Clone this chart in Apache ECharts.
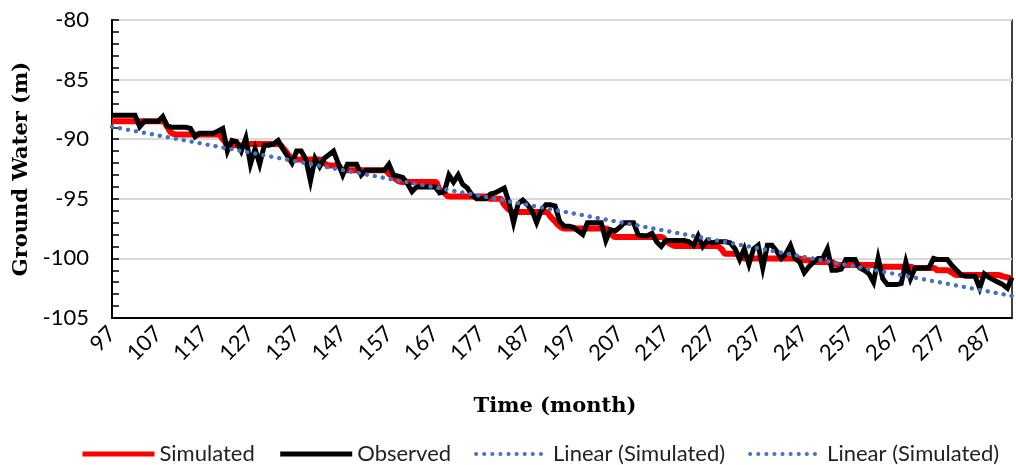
<!DOCTYPE html>
<html><head><meta charset="utf-8">
<script src="https://cdn.jsdelivr.net/npm/echarts@6/dist/echarts.min.js"></script>
<style>html,body{margin:0;padding:0;background:#fff}#c{width:1016px;height:465px}</style>
</head><body><div id="c"></div>
<script>
const firstMonth = 97;
const lastMonth = 292;
const months = [];
for (let m = firstMonth; m <= lastMonth; m++) months.push(String(m));

const observed = [
-88.0,-88.0,-88.0,-88.0,-88.0,-88.0,-88.95,-88.5,-88.5,-88.5,
-88.5,-88.1,-88.9,-89.0,-89.0,-89.0,-89.0,-89.1,-89.8,-89.5,
-89.5,-89.5,-89.5,-89.3,-89.1,-91.0,-90.1,-90.2,-91.0,-89.9,
-92.1,-90.8,-92.1,-90.5,-90.5,-90.4,-90.1,-90.8,-91.4,-92.0,
-91.0,-91.0,-91.7,-93.5,-91.6,-92.3,-91.6,-91.3,-91.0,-92.0,
-93.0,-92.1,-92.1,-92.1,-93.0,-92.6,-92.6,-92.6,-92.6,-92.6,
-92.1,-93.0,-93.1,-93.2,-93.7,-94.4,-94.0,-94.0,-94.0,-94.0,
-94.0,-94.5,-94.4,-93.0,-93.6,-93.0,-93.8,-94.1,-94.7,-95.0,
-95.0,-95.0,-94.6,-94.5,-94.3,-94.1,-95.3,-97.0,-95.4,-95.1,
-95.5,-96.0,-97.0,-96.0,-95.5,-95.5,-95.6,-96.9,-97.3,-97.3,
-97.4,-97.7,-98.0,-97.0,-97.0,-97.0,-97.0,-98.5,-97.6,-97.7,
-97.4,-97.0,-97.0,-97.0,-98.0,-98.1,-98.1,-97.9,-98.6,-99.0,
-98.5,-98.5,-98.5,-98.5,-98.5,-98.6,-98.9,-98.1,-99.0,-98.5,
-98.7,-98.6,-98.6,-98.6,-98.7,-99.2,-100.1,-99.2,-100.5,-99.2,
-98.9,-100.8,-98.9,-98.9,-99.4,-100.0,-99.6,-98.9,-100.0,-100.3,
-101.2,-100.7,-100.3,-100.0,-100.0,-99.2,-101.0,-101.0,-100.9,-100.1,
-100.1,-100.1,-100.8,-101.0,-101.3,-102.0,-100.0,-101.7,-102.2,-102.2,
-102.2,-102.1,-100.3,-101.7,-100.8,-100.8,-100.8,-100.8,-100.0,-100.1,
-100.1,-100.1,-100.6,-101.0,-101.4,-101.5,-101.5,-101.5,-102.5,-101.3,
-101.6,-101.8,-102.0,-102.2,-102.5,-101.6
];

const simulated = [
-88.5,-88.5,-88.5,-88.5,-88.5,-88.5,-88.5,-88.5,-88.5,-88.5,
-88.5,-88.5,-89.0,-89.5,-89.6,-89.6,-89.6,-89.6,-89.6,-89.6,
-89.6,-89.6,-89.6,-89.6,-90.0,-90.4,-90.5,-90.5,-90.5,-90.5,
-90.4,-90.4,-90.4,-90.4,-90.4,-90.4,-90.4,-90.7,-91.2,-91.6,
-91.7,-91.7,-91.7,-91.7,-91.7,-91.7,-92.0,-92.2,-92.2,-92.2,
-92.6,-92.6,-92.6,-92.6,-92.6,-92.6,-92.6,-92.6,-92.6,-92.6,
-92.9,-93.2,-93.5,-93.6,-93.6,-93.6,-93.6,-93.6,-93.6,-93.6,
-93.6,-94.2,-94.5,-94.8,-94.8,-94.8,-94.8,-94.8,-94.8,-94.8,
-94.8,-94.8,-95.0,-95.0,-95.0,-95.5,-95.9,-96.1,-96.1,-96.1,
-96.1,-96.1,-96.1,-96.1,-96.1,-96.5,-96.9,-97.3,-97.5,-97.5,
-97.5,-97.5,-97.5,-97.5,-97.5,-97.5,-97.5,-97.5,-97.8,-98.2,
-98.2,-98.2,-98.2,-98.2,-98.2,-98.2,-98.2,-98.2,-98.2,-98.2,
-98.5,-98.8,-98.95,-98.95,-98.95,-98.95,-98.95,-98.95,-98.95,-98.95,
-98.95,-98.95,-99.2,-99.6,-99.6,-99.6,-99.8,-100.0,-100.0,-100.0,
-100.0,-100.0,-100.0,-100.0,-100.0,-100.0,-100.0,-100.0,-100.0,-100.0,
-100.15,-100.15,-100.3,-100.3,-100.3,-100.3,-100.3,-100.55,-100.55,-100.55,
-100.55,-100.55,-100.55,-100.55,-100.55,-100.55,-100.55,-100.7,-100.7,-100.7,
-100.7,-100.7,-100.7,-100.7,-100.8,-100.8,-100.8,-100.8,-100.8,-101.0,
-101.0,-101.0,-101.2,-101.4,-101.4,-101.4,-101.4,-101.4,-101.4,-101.4,
-101.4,-101.4,-101.4,-101.5,-101.6,-101.7
];

// Linear (Simulated) trend line, values at first and last month
const trendEnds = [-88.95, -103.15];

const yMin = -105, yMax = -80, yStep = 5;
const labelEvery = 10;

const trend = months.map((m, i) => i === 0 ? trendEnds[0] : (i === months.length - 1 ? trendEnds[1] : null));

const sans = 'Lato';
const serif = 'DejaVu Serif';
const hidden = {color: 'rgba(0,0,0,0)', borderWidth: 0, opacity: 0};
const dotted = {color: '#4472c4', width: 4, type: [0.1, 8], cap: 'round'};

const chart = echarts.init(document.getElementById('c'), null, {renderer: 'canvas'});
chart.setOption({
  animation: false,
  backgroundColor: '#fff',
  grid: {left: 112, right: 4, top: 20, bottom: 147, show: true, borderColor: '#000', borderWidth: 1.5, containLabel: false},
  legend: {
    left: 80, top: 443, width: 936, padding: 0, itemWidth: 72, itemHeight: 14, itemGap: 23,
    textStyle: {fontFamily: sans, fontSize: 22, color: '#222'},
    itemStyle: hidden,
    data: [
      {name: 'Simulated', itemStyle: hidden, lineStyle: {color: '#ff0000', width: 5}},
      {name: 'Observed', itemStyle: hidden, lineStyle: {color: '#000', width: 5}},
      {name: 'Linear (Simulated)', itemStyle: hidden, lineStyle: dotted},
      {name: 'Linear (Simulated) ', itemStyle: hidden, lineStyle: dotted}
    ]
  },
  xAxis: {
    type: 'category', data: months, boundaryGap: false,
    name: 'Time (month)', nameLocation: 'middle', nameGap: 78,
    nameTextStyle: {fontFamily: serif, fontWeight: 'bold', fontSize: 21, color: '#000', padding: [0, 14, 0, 0]},
    axisLine: {lineStyle: {color: '#000', width: 2}},
    axisTick: {show: false},
    axisLabel: {interval: (i) => i % labelEvery === 0, rotate: 45, margin: 12, fontFamily: sans, fontSize: 22, color: '#000'},
    splitLine: {show: false}
  },
  yAxis: {
    type: 'value', min: yMin, max: yMax, interval: yStep,
    name: 'Ground Water (m)', nameLocation: 'middle', nameGap: 67,
    nameTextStyle: {fontFamily: serif, fontWeight: 'bold', fontSize: 21, color: '#000'},
    axisLine: {show: true, lineStyle: {color: '#000', width: 2}},
    axisTick: {show: true, inside: true, length: 7, lineStyle: {color: '#000', width: 1.5}},
    minorTick: {show: true, splitNumber: 5, length: 7, lineStyle: {color: '#000', width: 1.5}},
    axisLabel: {margin: 23, fontFamily: sans, fontSize: 22, color: '#000'},
    splitLine: {show: true, lineStyle: {color: '#d9d9d9', width: 2}}
  },
  series: [
    {name: 'Simulated', type: 'line', data: simulated, symbol: 'none', showSymbol: false, smooth: 0.5,
     lineStyle: {color: '#ff0000', width: 6}, itemStyle: {color: '#ff0000'}, z: 2},
    {name: 'Observed', type: 'line', data: observed, symbol: 'none', showSymbol: false,
     lineStyle: {color: '#000', width: 5, join: 'miter'}, itemStyle: {color: '#000'}, z: 3},
    {name: 'Linear (Simulated)', type: 'line', data: trend, connectNulls: true, symbol: 'none', showSymbol: false,
     lineStyle: dotted, itemStyle: {color: '#4472c4'}, z: 4},
    {name: 'Linear (Simulated) ', type: 'line', data: trend, connectNulls: true, symbol: 'none', showSymbol: false,
     lineStyle: dotted, itemStyle: {color: '#4472c4'}, z: 4}
  ]
});
</script>
</body></html>
